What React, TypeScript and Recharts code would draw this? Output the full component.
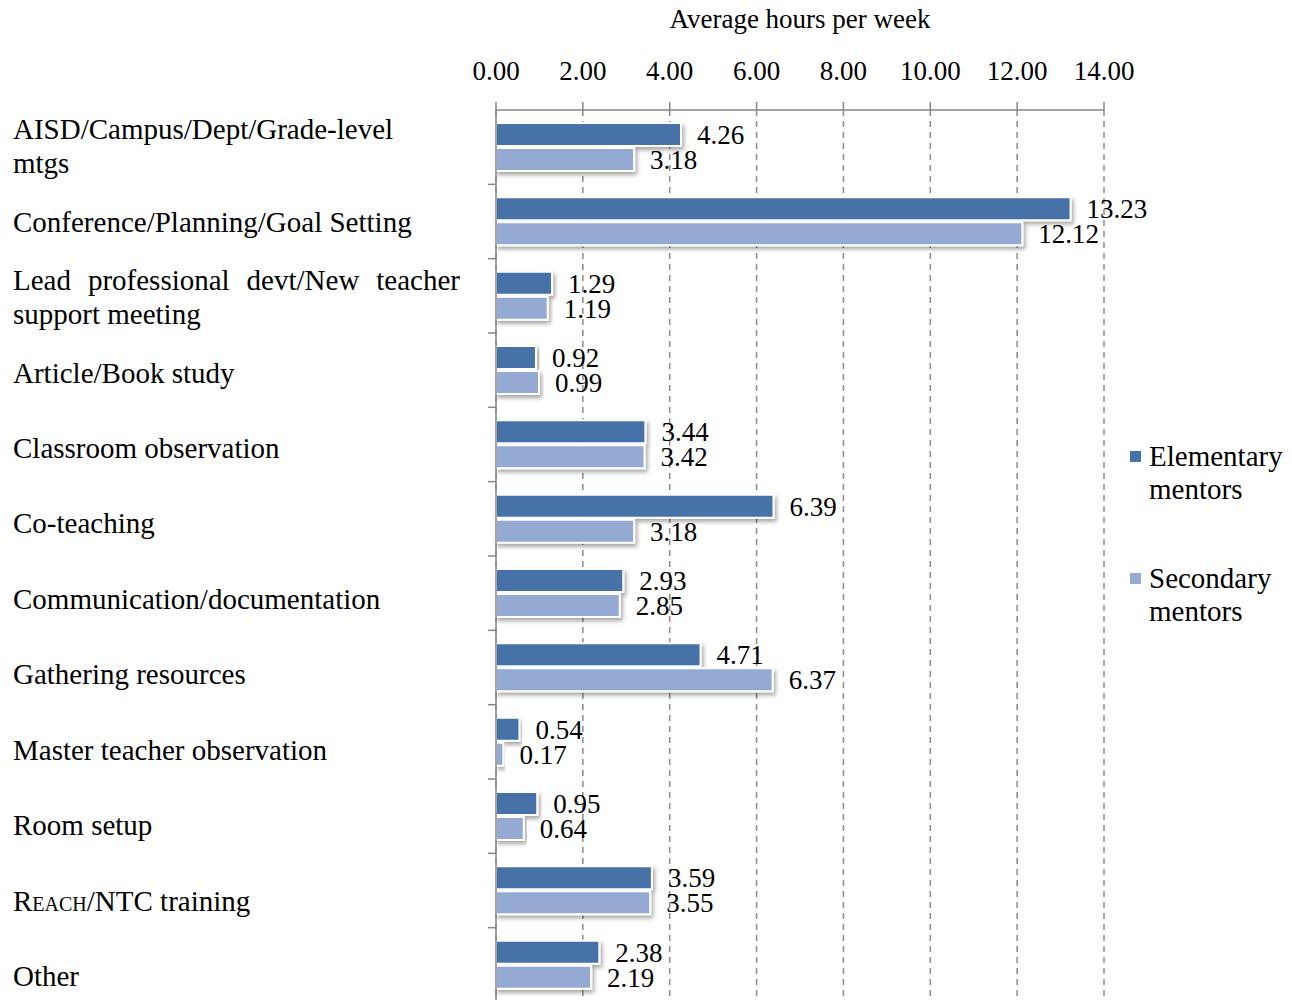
import React from 'react';
import { BarChart, Bar, XAxis, YAxis, CartesianGrid, Legend, LabelList, Label } from 'recharts';

// categories (explicit line breaks as in the original table column)
const categories = [
  'AISD/Campus/Dept/Grade-level\nmtgs',
  'Conference/Planning/Goal Setting',
  'Lead professional devt/New teacher\nsupport meeting',
  'Article/Book study',
  'Classroom observation',
  'Co-teaching',
  'Communication/documentation',
  'Gathering resources',
  'Master teacher observation',
  'Room setup',
  'Reach/NTC training',
  'Other',
];
const elementary = [4.26, 13.23, 1.29, 0.92, 3.44, 6.39, 2.93, 4.71, 0.54, 0.95, 3.59, 2.38];
const secondary = [3.18, 12.12, 1.19, 0.99, 3.42, 3.18, 2.85, 6.37, 0.17, 0.64, 3.55, 2.19];
const xTicks = [0, 2, 4, 6, 8, 10, 12, 14];
const seriesNames = ['Elementary mentors', 'Secondary mentors'];
const smallCapsWord = 'Reach';

const FONT = "'Liberation Serif', 'Times New Roman', serif";
const CAT_FONT = 29;
const NUM_FONT = 27;
const DARK = '#4772A8';
const LIGHT = '#95AAD2';
const AXIS = '#868686';
const PLOT_LEFT = 496;
const LABEL_X = 13;
const LABEL_RIGHT = 460;
const LINE_H = 34;

const data = categories.map((name, i) => ({
  name,
  elementary: elementary[i],
  secondary: secondary[i],
}));

let ctx: CanvasRenderingContext2D | null = null;
function measure(s: string) {
  if (!ctx) {
    ctx = document.createElement('canvas').getContext('2d');
    if (ctx) ctx.font = `${CAT_FONT}px ${FONT}`;
  }
  return ctx ? ctx.measureText(s).width : s.length * 13;
}

function renderLine(line: string, y: number, justify: boolean, key: number) {
  const words = line.split(' ');
  if (justify && words.length > 1) {
    const total = words.reduce((a, w) => a + measure(w), 0);
    const gap = (LABEL_RIGHT - LABEL_X - total) / (words.length - 1);
    let x = LABEL_X;
    return words.map((w, j) => {
      const el = (
        <text key={`${key}-${j}`} x={x} y={y} dy="0.35em" fontFamily={FONT} fontSize={CAT_FONT} fill="#000">
          {w}
        </text>
      );
      x += measure(w) + gap;
      return el;
    });
  }
  if (line.startsWith(smallCapsWord)) {
    return (
      <text key={key} x={LABEL_X} y={y} dy="0.35em" fontFamily={FONT} fontSize={CAT_FONT} fill="#000">
        <tspan style={{ fontVariant: 'small-caps' }}>{smallCapsWord}</tspan>
        {line.slice(smallCapsWord.length)}
      </text>
    );
  }
  return (
    <text key={key} x={LABEL_X} y={y} dy="0.35em" fontFamily={FONT} fontSize={CAT_FONT} fill="#000">
      {line}
    </text>
  );
}

function CategoryTick(props: any) {
  const { y, payload, index } = props;
  const half = payload && payload.offset ? payload.offset : 37;
  const lines = String(payload.value).split('\n');
  // the text column in the source runs slightly taller than the plot bands
  const drift = index * 1.1 - 1;
  const top = y + drift - ((lines.length - 1) * LINE_H) / 2;
  return (
    <g>
      {index > 0 && (
        <line x1={PLOT_LEFT - 8} x2={PLOT_LEFT} y1={y - half} y2={y - half} stroke={AXIS} strokeWidth={1.5} />
      )}
      {lines.map((ln, i) => renderLine(ln, top + i * LINE_H, i < lines.length - 1, i))}
    </g>
  );
}

function LegendContent(props: any) {
  const payload = props.payload || [];
  return (
    <div style={{ fontFamily: FONT, fontSize: CAT_FONT, lineHeight: '33px', color: '#000' }}>
      {payload.map((p: any, i: number) => (
        <div key={p.value} style={{ display: 'flex', alignItems: 'flex-start', marginBottom: i === 0 ? 56 : 0 }}>
          <span style={{ display: 'inline-block', width: 11, height: 11, background: p.color, marginTop: 11, marginRight: 8, flex: 'none' }} />
          <span style={{ width: 145 }}>{p.value}</span>
        </div>
      ))}
    </div>
  );
}

const fmt = (v: any) => Number(v).toFixed(2);

export default function App() {
  return (
    <div style={{ position: 'absolute', left: 0, top: 0, background: '#fff' }}>
      <BarChart
        width={1292}
        height={1010}
        data={data}
        layout="vertical"
        margin={{ top: 40, right: 188, bottom: 8, left: 0 }}
        barCategoryGap={13}
        barGap={2}
      >
        <defs>
          <filter id="barShadow" x="-5%" y="-30%" width="115%" height="170%">
            <feDropShadow dx="2" dy="3" stdDeviation="2" floodColor="#000" floodOpacity="0.35" />
          </filter>
        </defs>
        <CartesianGrid horizontal={false} stroke="#8a8a8a" strokeDasharray="6 5" strokeWidth={1.5} />
        <XAxis
          type="number"
          orientation="top"
          domain={[0, 14]}
          ticks={xTicks}
          tickFormatter={fmt}
          height={70}
          tickSize={8}
          tickMargin={22}
          stroke={AXIS}
          strokeWidth={1.5}
          tick={{ fill: '#000', fontFamily: FONT, fontSize: NUM_FONT }}
          interval={0}
        >
          <Label
            value="Average hours per week"
            position="top"
            offset={12}
            style={{ fill: '#000', fontFamily: FONT, fontSize: NUM_FONT }}
          />
        </XAxis>
        <YAxis
          type="category"
          dataKey="name"
          width={PLOT_LEFT}
          stroke={AXIS}
          strokeWidth={1.5}
          tickLine={false}
          tick={<CategoryTick />}
          interval={0}
        />
        <Legend
          layout="vertical"
          align="center"
          verticalAlign="middle"
          wrapperStyle={{ left: 1130, top: 440, width: 162 }}
          content={<LegendContent />}
        />
        <Bar
          dataKey="elementary"
          name={seriesNames[0]}
          fill={DARK}
          stroke="#fff"
          strokeWidth={2}
          filter="url(#barShadow)"
          isAnimationActive={false}
        >
          <LabelList
            dataKey="elementary"
            position="right"
            offset={16}
            formatter={fmt}
            style={{ fill: '#000', fontFamily: FONT, fontSize: NUM_FONT }}
          />
        </Bar>
        <Bar
          dataKey="secondary"
          name={seriesNames[1]}
          fill={LIGHT}
          stroke="#fff"
          strokeWidth={2}
          filter="url(#barShadow)"
          isAnimationActive={false}
        >
          <LabelList
            dataKey="secondary"
            position="right"
            offset={16}
            formatter={fmt}
            style={{ fill: '#000', fontFamily: FONT, fontSize: NUM_FONT }}
          />
        </Bar>
      </BarChart>
    </div>
  );
}
